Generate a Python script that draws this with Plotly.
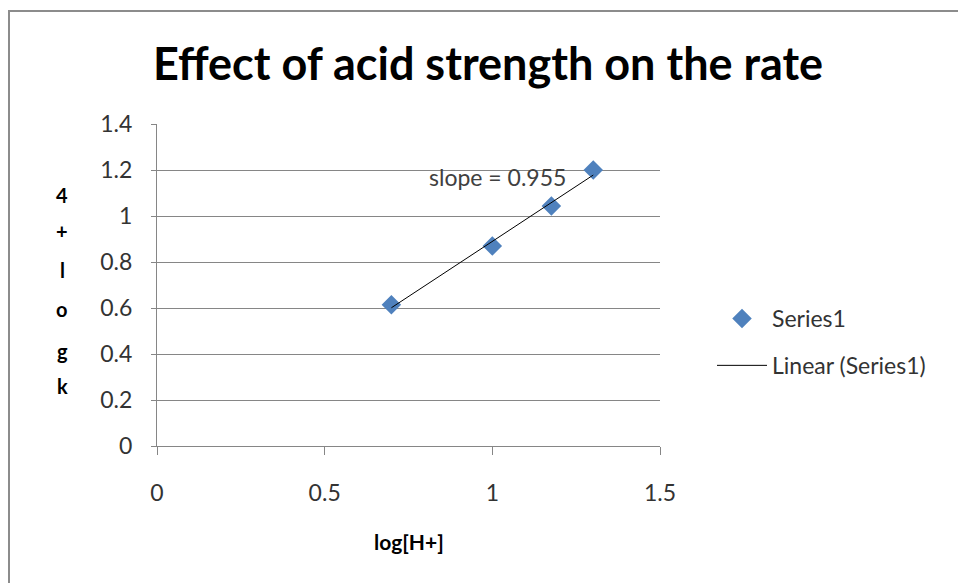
import numpy as np
import plotly.graph_objects as go

# Data
log_h = [0.699, 1.0, 1.176, 1.301]
log_k4 = [0.614, 0.870, 1.043, 1.200]
series_name = "Series1"
trend_name = "Linear (Series1)"
title_text = "Effect of acid strength on the rate"
x_title = "log[H+]"
y_title_letters = ["4", "+", "l", "o", "g", "k"]
y_title_pix = [195, 231, 270, 309, 351, 386]
x_ticks = [0, 0.5, 1, 1.5]
y_ticks = [0, 0.2, 0.4, 0.6, 0.8, 1.0, 1.2, 1.4]

slope, intercept = np.polyfit(log_h, log_k4, 1)
fit_x = [min(log_h), max(log_h)]
fit_y = [slope * v + intercept for v in fit_x]

FONT = "Lato"
PL, PR, PT, PB = 157, 660, 124, 446

def px_to_paper_x(px):
    return (px - PL) / (PR - PL)

def px_to_paper_y(py):
    return (PB - py) / (PB - PT)

fig = go.Figure()
fig.add_trace(go.Scatter(
    x=log_h, y=log_k4, mode="markers", name=series_name, legendgroup="a",
    marker=dict(symbol="diamond", size=15, color="#4F81BD"),
))
fig.add_trace(go.Scatter(
    x=fit_x, y=fit_y, mode="lines", name=trend_name, legendgroup="b",
    line=dict(color="#000000", width=1),
))

fig.add_annotation(x=1.014, y=1.17, xref="x", yref="y", text="slope = 0.955",
                   showarrow=False, font=dict(family=FONT, size=23, color="#404040"))
fig.add_annotation(x=px_to_paper_x(409), y=px_to_paper_y(541), xref="paper", yref="paper",
                   xanchor="center", yanchor="middle",
                   text=x_title, showarrow=False,
                   font=dict(family=FONT, size=21, color="#000000", weight="bold"))
for letter, py in zip(y_title_letters, y_title_pix):
    fig.add_annotation(x=px_to_paper_x(62), y=px_to_paper_y(py), xref="paper", yref="paper",
                       xanchor="center", yanchor="middle",
                       text=letter, showarrow=False,
                       font=dict(family=FONT, size=20, color="#000000", weight="bold"))

fig.add_shape(type="rect", xref="paper", yref="paper",
              x0=px_to_paper_x(9), x1=2.0, y0=-1.0, y1=px_to_paper_y(11),
              line=dict(color="#8C8C8C", width=2))

fig.update_layout(
    width=958, height=583,
    margin=dict(l=PL, r=958 - PR, t=PT, b=583 - PB),
    paper_bgcolor="white", plot_bgcolor="white",
    title=dict(text=title_text, x=488 / 958, xanchor="center",
               y=1 - 64 / 583, yanchor="middle",
               font=dict(family=FONT, size=45, color="#000000", weight="bold")),
    font=dict(family=FONT, size=23, color="#333333"),
    legend=dict(x=px_to_paper_x(712), y=px_to_paper_y(342), xanchor="left", yanchor="middle",
                font=dict(family=FONT, size=23, color="#333333"),
                tracegroupgap=14, itemwidth=50),
    showlegend=True,
)
fig.update_xaxes(range=[0, 1.5], tickvals=x_ticks, ticktext=[f"{v:g}" for v in x_ticks],
                 showgrid=False, zeroline=False, showline=True, linecolor="#868686",
                 ticks="outside", ticklen=8, tickcolor="#868686",
                 ticklabelstandoff=18, tickfont=dict(size=23, color="#333333"))
fig.update_yaxes(range=[0, 1.4], tickvals=y_ticks, ticktext=[f"{v:g}" for v in y_ticks],
                 showgrid=True, gridcolor="#868686", gridwidth=1,
                 zeroline=False, showline=True, linecolor="#868686",
                 ticks="outside", ticklen=5, tickcolor="#868686",
                 ticklabelstandoff=14, tickfont=dict(size=23, color="#333333"))

fig.write_html("out.html")
